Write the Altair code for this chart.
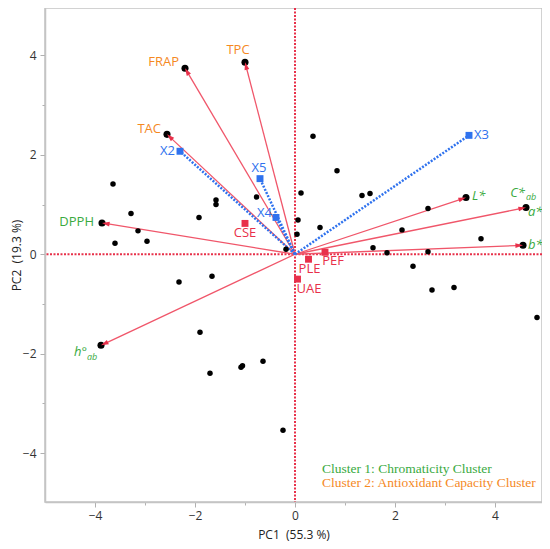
import math
import altair as alt
import pandas as pd

# ---------------- data ----------------
score_x = [-3.64, -3.28, -3.14, -2.96, -3.60, -1.92, -1.58, -1.58, -0.77, -1.66,
           -2.32, -1.90, -1.70, -1.08, -1.05, -0.64, -0.24, 2.74, 3.18, 4.84,
           0.36, 0.84, 0.12, 1.34, 1.50, 0.06, 0.50, 0.04, 2.66, 2.14,
           3.72, 1.56, 1.84, 2.66, 2.36, -0.18]
score_y = [1.41, 0.82, 0.47, 0.26, 0.22, 0.74, 1.09, 1.00, 1.15, -0.44,
           -0.56, -1.57, -2.39, -2.27, -2.24, -2.15, -3.54, -0.72, -0.67, -1.27,
           2.37, 1.68, 1.23, 1.18, 1.22, 0.69, 0.54, 0.40, 0.92, 0.49,
           0.31, 0.13, 0.03, 0.05, -0.24, 0.10]

resp_names = ["TPC", "FRAP", "TAC", "DPPH", "h°ab", "L*", "a*", "b*"]
resp_x = [-1.00, -2.20, -2.56, -3.86, -3.88, 3.42, 4.62, 4.56]
resp_y = [3.86, 3.74, 2.41, 0.63, -1.83, 1.14, 0.94, 0.18]

fac_names = ["X2", "X3", "X4", "X5"]
fac_x = [-2.30, 3.48, -0.38, -0.70]
fac_y = [2.07, 2.39, 0.74, 1.52]

sq_names = ["CSE", "PLE", "PEF", "UAE"]
sq_x = [-1.00, 0.27, 0.60, 0.05]
sq_y = [0.62, -0.10, 0.04, -0.50]

major_ticks = [-4, -2, 0, 2, 4]
minor_ticks = [-3, -1, 1, 3]
legend_lines = ["Cluster 1: Chromaticity Cluster",
                "Cluster 2: Antioxidant Capacity Cluster"]
x_title = "PC1\u00a0 (55.3 %)"
y_title = "PC2\u00a0 (19.3 %)"

# ---------------- styles ----------------
GREEN = "#3aaa3f"
ORANGE = "#f5891f"
BLUE = "#2f72ee"
RED = "#e8304a"
LINE_RED = "#f0566a"
FONT = "Open Sans"

W, H = 497, 494
xs = alt.Scale(domain=[-5, 4.94], nice=False, zero=False)
ys = alt.Scale(domain=[-4.98, 4.95], nice=False, zero=False)

tick_vals = sorted(major_ticks + minor_ticks)
axis_common = dict(
    values=tick_vals,
    labelExpr="datum.value % 2 == 0 ? datum.label : ''",
    labelOverlap=False,
    tickSize={"condition": {"test": "datum.value % 2 != 0", "value": 3}, "value": 5},
    grid=False,
    domainColor="#c4c4c4",
    domainWidth=1.5,
    tickColor="#b0b0b0",
    labelColor="#333333",
    labelFont=FONT,
    labelFontSize=12,
    titleFont=FONT,
    titleFontSize=12,
    titleFontWeight="normal",
    titleColor="#222222",
)
xaxis = alt.Axis(title=x_title, titleY=36, titleBaseline="alphabetic",
                 labelPadding=3, **axis_common)
yaxis = alt.Axis(title=y_title, titleX=-29, titleBaseline="middle",
                 labelPadding=4, **axis_common)


def X(f):
    return alt.X(f, type="quantitative", scale=xs, axis=xaxis)


def Y(f):
    return alt.Y(f, type="quantitative", scale=ys, axis=yaxis)


scores = pd.DataFrame({"x": score_x, "y": score_y})
resp = pd.DataFrame({"name": resp_names, "x": resp_x, "y": resp_y})
resp["x0"] = 0.0
resp["y0"] = 0.0
resp["ang"] = [(math.degrees(math.atan2(a * 50, b * 49.75))) % 360
               for a, b in zip(resp_x, resp_y)]
fac = pd.DataFrame({"name": fac_names, "x": fac_x, "y": fac_y})
fac["x0"] = 0.0
fac["y0"] = 0.0
sq = pd.DataFrame({"name": sq_names, "x": sq_x, "y": sq_y})
zero = pd.DataFrame({"v": [0.0]})

ARROW = "M0,0 L0.6,1.9 L-0.6,1.9 Z"

layers = []

# zero reference lines
layers.append(alt.Chart(zero).mark_rule(color=RED, strokeWidth=2, strokeDash=[2, 1.5]).encode(
    x=X("v")))
layers.append(alt.Chart(zero).mark_rule(color=RED, strokeWidth=2, strokeDash=[2, 1.5]).encode(
    y=Y("v")))

# response vectors
layers.append(alt.Chart(resp).mark_rule(color=LINE_RED, strokeWidth=1.3).encode(
    x=X("x0"), y=Y("y0"), x2="x", y2="y"))

# factor vectors (blue dotted)
layers.append(alt.Chart(fac).mark_rule(color=BLUE, strokeWidth=2.5, strokeDash=[2, 1.5]).encode(
    x=X("x0"), y=Y("y0"), x2="x", y2="y"))

# scores
layers.append(alt.Chart(scores).mark_circle(color="black", size=30, opacity=1).encode(
    x=X("x"), y=Y("y")))

# response end points + arrow heads
layers.append(alt.Chart(resp).mark_circle(color="black", size=50, opacity=1).encode(
    x=X("x"), y=Y("y")))
layers.append(alt.Chart(resp).mark_point(shape=ARROW, filled=True, color=RED,
                                         size=64, opacity=1, strokeWidth=0).encode(
    x=X("x"), y=Y("y"), angle=alt.Angle("ang:Q", scale=None)))

# factor squares
layers.append(alt.Chart(fac).mark_square(color=BLUE, size=48, opacity=1).encode(
    x=X("x"), y=Y("y")))
# red squares
layers.append(alt.Chart(sq).mark_square(color=RED, size=48, opacity=1).encode(
    x=X("x"), y=Y("y")))


def lab(text, x, y, color, dx=0, dy=0, align="center", italic=False, size=13):
    d = pd.DataFrame({"x": [x], "y": [y], "t": [text]})
    return alt.Chart(d).mark_text(
        color=color, dx=dx, dy=dy, align=align, baseline="middle", font=FONT,
        fontSize=size, fontStyle="italic" if italic else "normal").encode(
        x=X("x"), y=Y("y"), text="t:N")


# response labels
layers.append(lab(resp_names[0], resp_x[0], resp_y[0], ORANGE, -7, -12))
layers.append(lab(resp_names[1], resp_x[1], resp_y[1], ORANGE, -6, -6, "right"))
layers.append(lab(resp_names[2], resp_x[2], resp_y[2], ORANGE, -6, -5, "right"))
layers.append(lab(resp_names[3], resp_x[3], resp_y[3], GREEN, -8, -1, "right"))
layers.append(lab(resp_names[4][:2], resp_x[4], resp_y[4], GREEN, -14, 7, "right", True))
layers.append(lab(resp_names[4][2:], resp_x[4], resp_y[4], GREEN, -14, 12, "left", True, 9))
layers.append(lab(resp_names[5], resp_x[5], resp_y[5], GREEN, 6, -2, "left", True))
layers.append(lab(resp_names[6], resp_x[6], resp_y[6], GREEN, 2, 5, "left", True))
layers.append(lab("C*", resp_x[6], resp_y[6], GREEN, -1, -14, "right", True))
layers.append(lab("ab", resp_x[6], resp_y[6], GREEN, 0, -10, "left", True, 9))
layers.append(lab(resp_names[7], resp_x[7], resp_y[7], GREEN, 5, 0, "left", True))

# factor labels
layers.append(lab(fac_names[0], fac_x[0], fac_y[0], BLUE, -5, 0, "right"))
layers.append(lab(fac_names[1], fac_x[1], fac_y[1], BLUE, 5, 0, "left"))
layers.append(lab(fac_names[2], fac_x[2], fac_y[2], BLUE, -4, -4, "right"))
layers.append(lab(fac_names[3], fac_x[3], fac_y[3], BLUE, -1, -11))

# square labels
layers.append(lab(sq_names[0], sq_x[0], sq_y[0], RED, 0, 10))
layers.append(lab(sq_names[1], sq_x[1], sq_y[1], RED, 1, 10))
layers.append(lab(sq_names[2], sq_x[2], sq_y[2], RED, 8, 9))
layers.append(lab(sq_names[3], sq_x[3], sq_y[3], RED, -1, 10, "left"))

# cluster notes
for i, (txt, col) in enumerate(zip(legend_lines, [GREEN, ORANGE])):
    d = pd.DataFrame({"t": [txt]})
    layers.append(alt.Chart(d).mark_text(
        color=col, align="left", baseline="middle", font="Liberation Serif",
        fontSize=13.5).encode(
        x=alt.value(277), y=alt.value(461 + 14 * i), text="t:N"))

chart = alt.layer(*layers).properties(
    width=W, height=H,
    autosize=alt.AutoSizeParams(type="none"),
    padding={"left": 37, "top": 0, "right": 0, "bottom": 39},
    background="white",
).configure_view(stroke="#c4c4c4", strokeWidth=1.5)

chart.save("out.html", embed_options={"renderer": "svg", "actions": False})
